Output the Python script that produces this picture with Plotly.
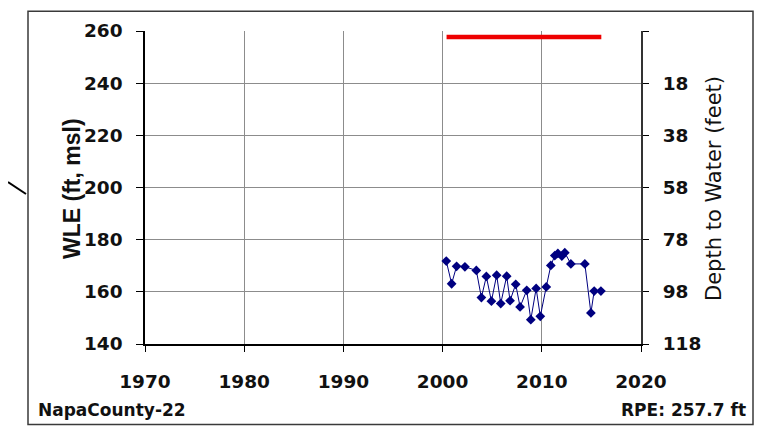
import plotly.graph_objects as go

# ---- data ----
years = [2000.37, 2000.91, 2001.41, 2002.25, 2003.40, 2003.91, 2004.41, 2004.92,
         2005.45, 2005.86, 2006.46, 2006.80, 2007.37, 2007.81, 2008.48, 2008.89,
         2009.43, 2009.85, 2010.45, 2010.91, 2011.31, 2011.62, 2012.02, 2012.32,
         2012.93, 2014.34, 2014.95, 2015.28, 2015.96]
wle = [171.8, 163.1, 169.8, 169.6, 168.2, 157.8, 165.9, 156.4,
       166.4, 155.5, 166.0, 156.6, 162.9, 154.2, 160.6, 149.3,
       161.3, 150.6, 161.9, 170.1, 173.9, 174.7, 173.7, 175.0,
       170.7, 170.7, 151.9, 160.3, 160.3]
rpe = 257.7
rpe_years = [2000.4, 2016.0]
x_ticks = [1970, 1980, 1990, 2000, 2010, 2020]
y_ticks = [140, 160, 180, 200, 220, 240, 260]
depth_text = [str(round(rpe - v)) if rpe - v >= 0 else "" for v in y_ticks]

OFF = 8  # page body margin
W, H = 762 - OFF, 432 - OFF
L, R, T, B = 145 - OFF, 641 - OFF, 29 - OFF, 344 - OFF  # plot area in figure pixels


def px(xp):
    return (xp - OFF - L) / (R - L)


def py(yp):
    return (B - (yp - OFF)) / (B - T)


fig = go.Figure()
fig.add_trace(go.Scatter(
    x=years, y=wle, mode="lines+markers",
    line=dict(color="#000080", width=1),
    marker=dict(symbol="diamond", size=7.5, color="#000080"),
    hoverinfo="x+y", showlegend=False))
fig.add_trace(go.Scatter(
    x=rpe_years, y=[rpe, rpe], mode="lines", yaxis="y2",
    line=dict(color="#ee0000", width=4.5), showlegend=False))

tf = dict(family="DejaVu Sans", size=18.5, color="#111111", weight="bold")

fig.update_layout(
    width=W, height=H,
    margin=dict(l=L, r=W - R, t=T, b=H - B),
    paper_bgcolor="white", plot_bgcolor="white",
    font=dict(family="DejaVu Sans", color="#111111"),
    xaxis=dict(
        range=[1970, 2020], tickvals=x_ticks, ticktext=[str(v) for v in x_ticks],
        showgrid=True, gridcolor="#8c8c8c", gridwidth=1,
        showline=True, linecolor="black", linewidth=1.5,
        ticks="outside", ticklen=6, tickcolor="black",
        tickfont=tf, ticklabelstandoff=14, zeroline=False),
    yaxis=dict(
        range=[140, 260], tickvals=y_ticks, ticktext=[str(v) for v in y_ticks],
        showgrid=True, gridcolor="#8c8c8c", gridwidth=1,
        showline=True, linecolor="black", linewidth=1.5,
        ticks="outside", ticklen=7, tickcolor="black",
        tickfont=tf, ticklabelstandoff=10, zeroline=False),
    yaxis2=dict(
        range=[140, 260], overlaying="y", side="right",
        tickvals=y_ticks, ticktext=depth_text,
        showgrid=False, showline=True, linecolor="#333333", linewidth=2,
        ticks="outside", ticklen=6, tickcolor="black",
        tickfont=tf, ticklabelstandoff=10, zeroline=False),
)

# outer frame and leader line
fig.add_shape(type="rect", xref="paper", yref="paper",
              x0=px(28), x1=px(753), y0=py(425), y1=py(9),
              line=dict(color="#3a3a3a", width=1.5), layer="below")
fig.add_shape(type="line", xref="paper", yref="paper",
              x0=px(8), y0=py(181), x1=px(26), y1=py(193),
              line=dict(color="black", width=2))

# axis titles
fig.add_annotation(text="<b>WLE (ft, msl)</b>", textangle=-90, xref="paper", yref="paper",
                   x=px(57), y=py(188), showarrow=False,
                   font=dict(family="Liberation Sans", size=23, color="#111111"))
fig.add_annotation(text="Depth to Water (feet)", textangle=-90, xref="paper", yref="paper",
                   x=px(728), y=py(188), showarrow=False,
                   font=dict(family="DejaVu Sans", size=21, color="#111111"))

# footer texts
fig.add_annotation(text="<b>NapaCounty-22</b>", xref="paper", yref="paper",
                   x=px(36), y=py(410), xanchor="left", yanchor="middle", showarrow=False,
                   font=dict(family="DejaVu Sans", size=17, color="#111111"))
fig.add_annotation(text="<b>RPE: 257.7 ft</b>", xref="paper", yref="paper",
                   x=px(748), y=py(410), xanchor="right", yanchor="middle", showarrow=False,
                   font=dict(family="DejaVu Sans", size=17, color="#111111"))

fig.write_html("out.html")
